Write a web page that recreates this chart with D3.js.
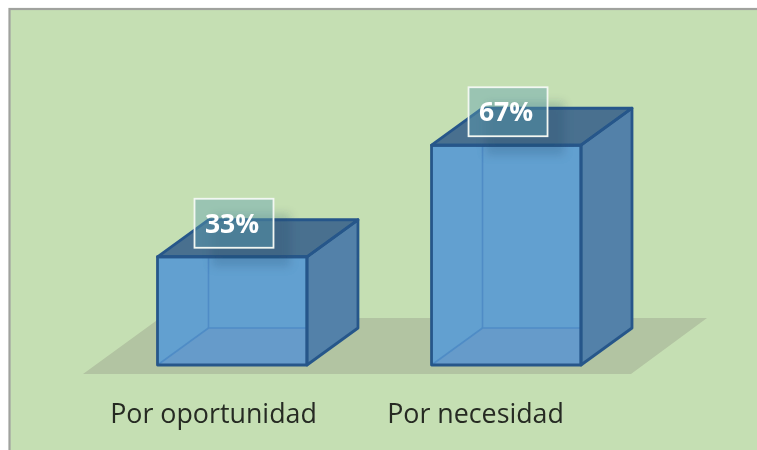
<!DOCTYPE html>
<html>
<head>
<meta charset="utf-8">
<script src="https://cdn.jsdelivr.net/npm/d3@7"></script>
<style>html,body{margin:0;padding:0;background:#fff;overflow:hidden}svg{display:block}</style>
</head>
<body>
<div id="chart"></div>
<script>
const categories = ["Por oportunidad", "Por necesidad"];
const values = [33, 67];
const axisMax = [100];

const W = 757, H = 450;
const depth = {x: 51, y: -37};
const svg = d3.select("#chart").append("svg").attr("width", W).attr("height", H);

const defs = svg.append("defs");
defs.append("filter").attr("id","soft").attr("x","-5%").attr("y","-5%").attr("width","110%").attr("height","110%")
  .append("feGaussianBlur").attr("stdDeviation",0.7);
defs.append("filter").attr("id","textsoft").attr("x","-10%").attr("y","-10%").attr("width","120%").attr("height","120%")
  .append("feGaussianBlur").attr("stdDeviation",0.4);
defs.append("filter").attr("id","shadow").attr("x","-30%").attr("y","-30%").attr("width","160%").attr("height","160%")
  .append("feGaussianBlur").attr("stdDeviation",5);

svg.append("rect").attr("width",W).attr("height",H).attr("fill","#fff");
svg.append("rect").attr("x",9.5).attr("y",9).attr("width",W).attr("height",H)
  .attr("fill","#c5dfb3").attr("stroke","#a0a29e").attr("stroke-width",2.2);

const x = d3.scaleBand().domain(categories).range([157.5, 581]).paddingInner(125/275).paddingOuter(0);
const y = d3.scaleLinear().domain([0, axisMax[0]]).range([365, 37]);
const labelX = d3.scalePoint().domain(categories).range([213, 475]);

const g = svg.append("g").attr("filter","url(#soft)");
const line = d3.line();

// floor
const b = y(0);
g.append("path")
 .attr("d", line([[83,b+9],[631,b+9],[707,b+depth.y-10],[160,b+depth.y-10]])+"Z")
 .attr("fill","#b2c4a2");

const bars = g.selectAll("g.bar").data(categories.map((c,i)=>({c,v:values[i]}))).join("g").attr("class","bar");
const edge = "#27578a";

function face(sel, fn, fill, stroke, sw){
  sel.append("path").attr("d", d=>line(fn(d))+"Z")
    .attr("fill",fill).attr("stroke",stroke).attr("stroke-width",sw).attr("stroke-linejoin","round");
}
const L = d=>x(d.c), R = d=>x(d.c)+x.bandwidth(), T = d=>y(d.v);
const dx = depth.x, dy = depth.y;

// top
face(bars, d=>[[L(d),T(d)],[L(d)+dx,T(d)+dy],[R(d)+dx,T(d)+dy],[R(d),T(d)]], "#48708f", "none", 0);
// front body and interior floor
face(bars, d=>[[L(d),T(d)],[R(d),T(d)],[R(d),b],[L(d),b]], "#62a0d0", "none", 0);
face(bars, d=>[[L(d),b],[L(d)+dx,b+dy],[R(d),b+dy],[R(d),b]], "#669bca", "none", 0);
// inner edges
bars.append("path").attr("d", d=>line([[L(d)+dx,T(d)],[L(d)+dx,b+dy],[R(d),b+dy]])).attr("fill","none").attr("stroke","#4f8cc6").attr("stroke-width",1.6);
bars.append("path").attr("d", d=>line([[L(d),b],[L(d)+dx,b+dy]])).attr("fill","none").attr("stroke","#4f8cc6").attr("stroke-width",1.6);
// right side
face(bars, d=>[[R(d),T(d)],[R(d)+dx,T(d)+dy],[R(d)+dx,b+dy],[R(d),b]], "#5381a9", edge, 2.8);
// outlines
bars.append("path").attr("d", d=>line([[L(d),T(d)],[L(d)+dx,T(d)+dy],[R(d)+dx,T(d)+dy],[R(d),T(d)]])+"Z").attr("fill","none").attr("stroke",edge).attr("stroke-width",2.8).attr("stroke-linejoin","round");
bars.append("path").attr("d", d=>line([[L(d),T(d)],[R(d),T(d)],[R(d),b],[L(d),b]])+"Z").attr("fill","none").attr("stroke",edge).attr("stroke-width",2.8).attr("stroke-linejoin","round");

// value labels, placed relative to the bar top
const bw = 79, bh = 49;
const lx = d=>L(d)+37, ly = d=>T(d)-58;

bars.append("rect").attr("x",d=>lx(d)+17).attr("y",d=>ly(d)+15).attr("width",bw).attr("height",bh+4)
  .attr("fill","#1f3f5f").attr("opacity",0.2).attr("filter","url(#shadow)");
bars.append("rect").attr("x",lx).attr("y",ly).attr("width",bw).attr("height",bh)
  .attr("fill","#5f9fb0").attr("fill-opacity",0.42).attr("stroke","#f2f7f2").attr("stroke-width",1.8);

const lab = svg.append("g").attr("filter","url(#textsoft)");
lab.selectAll("text").data(categories.map((c,i)=>({c,v:values[i]}))).join("text")
  .attr("x",d=>lx(d)+bw/2-2).attr("y",d=>ly(d)+bh/2+9.5)
  .attr("text-anchor","middle").attr("fill","#fff").attr("font-weight",700)
  .attr("font-family","'Open Sans'").attr("font-size",26.5)
  .text(d=>d.v+"%");

// category axis
const axis = svg.append("g").attr("transform","translate(0,423)").attr("filter","url(#textsoft)")
  .call(d3.axisBottom(labelX).tickSize(0).tickPadding(0));
axis.select(".domain").remove();
axis.selectAll("text").attr("font-family","'Open Sans'").attr("font-size",26.8).attr("fill","#262b24").attr("y",0).attr("dy",0);
</script>
</body>
</html>
